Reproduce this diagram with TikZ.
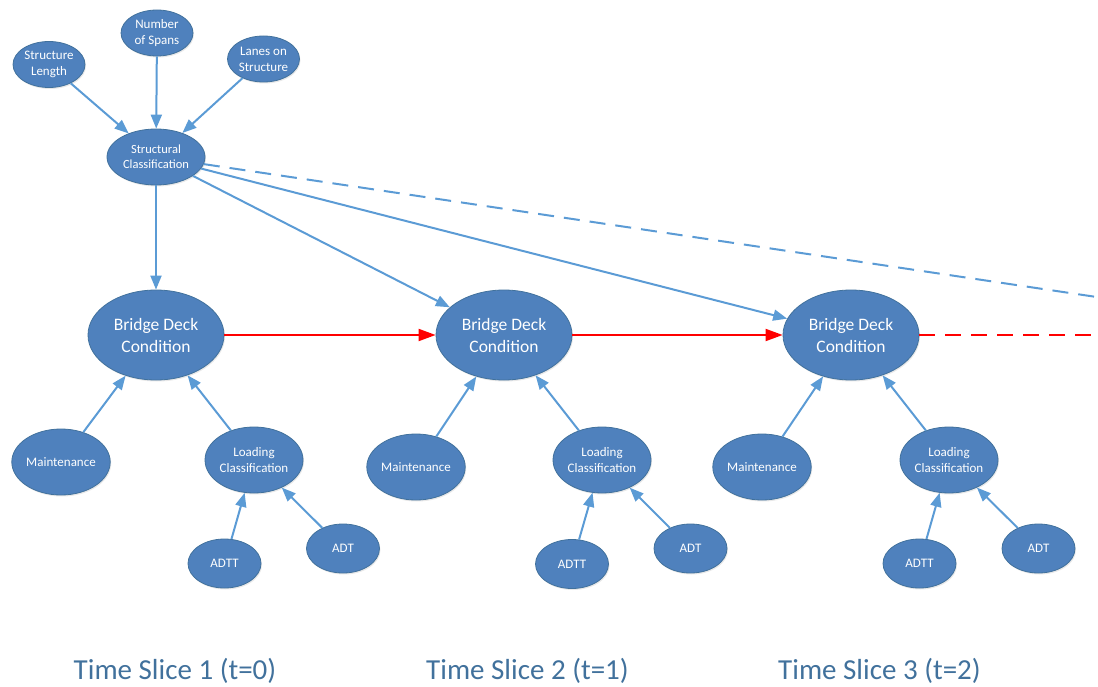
\documentclass[tikz,border=0pt]{standalone}
\usepackage{fontspec}
\setmainfont{Carlito}
\usetikzlibrary{arrows.meta,shapes.geometric,shadows}
\definecolor{nodefill}{HTML}{4F81BD}
\definecolor{nodeborder}{HTML}{41719C}
\definecolor{arrowblue}{HTML}{5B9BD5}
\definecolor{slicetext}{HTML}{41719C}
\begin{document}
\begin{tikzpicture}[x=1pt,y=-1pt,
  bn/.style={ellipse, fill=nodefill, draw=nodeborder, line width=0.8pt,
    text=white, align=center, inner sep=0pt,
    drop shadow={opacity=0.18, shadow xshift=1pt, shadow yshift=-1.5pt}},
  top/.style={bn, minimum width=72pt, minimum height=46pt, font=\fontsize{13}{16}\selectfont},
  mid/.style={bn, minimum width=98pt, minimum height=56pt, font=\fontsize{12.5}{15}\selectfont},
  big/.style={bn, minimum width=136pt, minimum height=90pt, font=\fontsize{17.5}{22}\selectfont},
  sub/.style={bn, minimum width=98pt, minimum height=66pt, font=\fontsize{13}{16}\selectfont},
  leaf/.style={bn, minimum width=73pt, minimum height=49pt, font=\fontsize{13}{16}\selectfont},
  bl/.style={draw=arrowblue, line width=2pt, -{Triangle[length=14pt,width=11pt]}},
  rd/.style={draw=red, line width=2pt, -{Triangle[length=17pt,width=12pt]}},
  bldash/.style={draw=arrowblue, line width=2pt, dash pattern=on 16pt off 10pt},
  rddash/.style={draw=red, line width=2pt, dash pattern=on 16pt off 10pt},
  slice/.style={font=\fontsize{29}{34}\selectfont, text=slicetext, anchor=base}
]
\useasboundingbox (0,0) rectangle (1098,687);

% top level
\node[top] (sl) at (49,64.5) {Structure\\Length};
\node[top] (ns) at (157,33) {Number\\of Spans};
\node[top] (ls) at (263.5,59) {Lanes on\\Structure};
\node[mid] (sc) at (156,157) {Structural\\Classification};

% slice 1
\node[big]  (b1)  at (156,335) {Bridge Deck\\Condition};
\node[sub]  (m1)  at (61,462)  {Maintenance};
\node[sub]  (lc1) at (254,460) {Loading\\Classification};
\node[leaf] (tt1) at (224.5,563.5) {ADTT};
\node[leaf] (ad1) at (343,548.5) {ADT};

% slice 2
\node[big]  (b2)  at (504,335) {Bridge Deck\\Condition};
\node[sub]  (m2)  at (416,467) {Maintenance};
\node[sub]  (lc2) at (602,460) {Loading\\Classification};
\node[leaf] (tt2) at (572,564) {ADTT};
\node[leaf] (ad2) at (690.5,548.5) {ADT};

% slice 3
\node[big]  (b3)  at (851,335) {Bridge Deck\\Condition};
\node[sub]  (m3)  at (762,467) {Maintenance};
\node[sub]  (lc3) at (949,460) {Loading\\Classification};
\node[leaf] (tt3) at (919.5,563.5) {ADTT};
\node[leaf] (ad3) at (1038.5,548.5) {ADT};

\coordinate (bluend) at (1100,297.5);
\coordinate (redend) at (1092,335);

% connectors
\draw[bl] (sl) -- (sc);
\draw[bl] (ns) -- (sc);
\draw[bl] (ls) -- (sc);
\draw[bl] (sc) -- (b1);
\draw[bl] (sc) -- (b2);
\draw[bl] (sc) -- (b3);
\draw[bldash] (sc) -- (bluend);

\draw[rd] (b1) -- (b2);
\draw[rd] (b2) -- (b3);
\draw[rddash] (b3) -- (redend);

\foreach \i in {1,2,3}{
  \draw[bl] (m\i) -- (b\i);
  \draw[bl] (lc\i) -- (b\i);
  \draw[bl] (tt\i) -- (lc\i);
  \draw[bl] (ad\i) -- (lc\i);
}

% labels
\node[slice] (s1) at (175,679) {Time Slice 1 (t=0)};
\node[slice] (s2) at (527.5,679) {Time Slice 2 (t=1)};
\node[slice] (s3) at (879.5,679) {Time Slice 3 (t=2)};
\end{tikzpicture}
\end{document}
